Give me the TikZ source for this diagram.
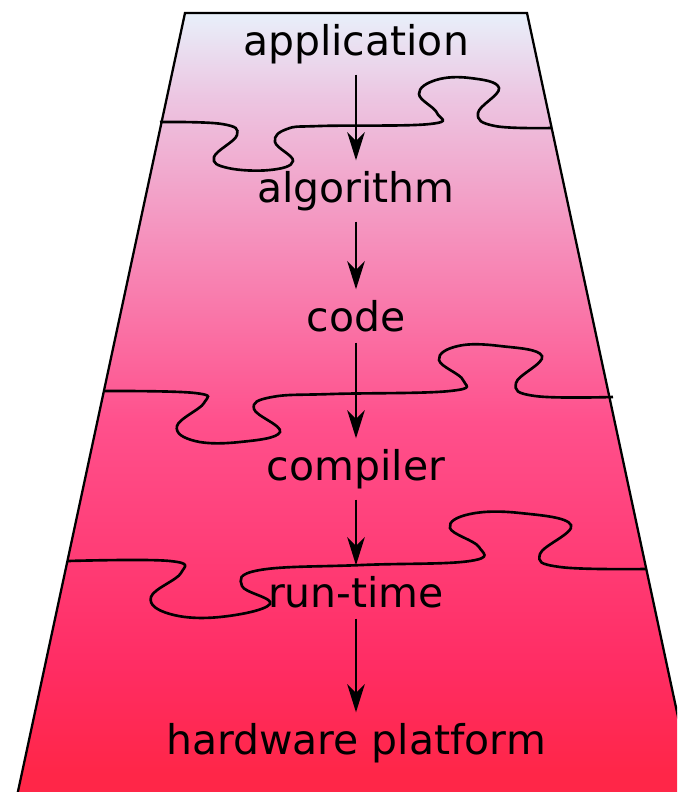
\documentclass[tikz,border=0pt]{standalone}
\usepackage{fontspec}
\setmainfont{DejaVu Sans}
\usetikzlibrary{arrows.meta}

\definecolor{sky}{RGB}{232,240,250}
\definecolor{lilac}{RGB}{236,198,226}
\definecolor{rose}{RGB}{246,140,185}
\definecolor{pinkred}{RGB}{255,80,140}
\definecolor{hotred}{RGB}{255,45,100}
\definecolor{deepred}{RGB}{255,38,72}
\pgfdeclareverticalshading{stack}{100bp}{color(0bp)=(deepred); color(25bp)=(deepred);
  color(26.4bp)=(deepred); color(33.5bp)=(hotred); color(48.9bp)=(pinkred);
  color(59.8bp)=(rose); color(69.7bp)=(lilac); color(75bp)=(sky); color(100bp)=(sky)}

\tikzset{
  layer/.style={font=\fontsize{23.3}{26}\selectfont, inner sep=6pt},
  flow/.style={-{Stealth[length=16pt,width=10pt,inset=5pt]}, line width=1.3pt},
  seam/.style={line width=1.5pt}
}

\begin{document}
\begin{tikzpicture}[x=0.02cm, y=-0.02cm]
\useasboundingbox (0,0) rectangle (677,792);
\clip (0,0) rectangle (677,792);
% the stack
\shade[shading=stack, draw, line width=1.3pt] (185,13) -- (527,13) -- (695,796) -- (17,796) -- cycle;
% puzzle seams
\draw[seam] plot[smooth, tension=0.7] coordinates {(160,122) (222,124) (237,135) (214,157) (228,168)
  (270,170) (293,161) (275,142) (287,129) (320,126) (430,124) (437,113) (419,94) (436,80) (470,78)
  (499,88) (478,113) (495,126) (552,128)};
\draw[seam] plot[smooth, tension=0.7] coordinates {(105,391) (195,393) (204,403) (177,426) (195,441)
  (240,442) (280,432) (254,409) (272,397) (332,394) (450,391) (463,380) (439,360) (458,346) (500,346)
  (542,356) (516,383) (535,396) (613,397)};
\draw[seam] plot[smooth, tension=0.7] coordinates {(68,561) (170,561) (181,573) (151,597) (170,614)
  (220,617) (270,604) (242,586) (260,570) (362,565) (470,561) (479,547) (450,528) (470,514) (520,513)
  (571,525) (540,554) (560,567) (646,569)};
% the layers
\node[layer] (app) at (356,44) {application};
\node[layer] (alg) at (356,191) {algorithm};
\node[layer] (code) at (356,316) {code};
\node[layer] (comp) at (356,469) {compiler};
\node[layer] (rt) at (356,592) {run-time};
\node[layer] (hw) at (356,743) {hardware platform};
\draw[flow] (app) -- (alg);
\draw[flow] (alg) -- (code);
\draw[flow] (code) -- (comp);
\draw[flow] (comp) -- (rt);
\draw[flow] (rt) -- (hw);
\end{tikzpicture}
\end{document}
